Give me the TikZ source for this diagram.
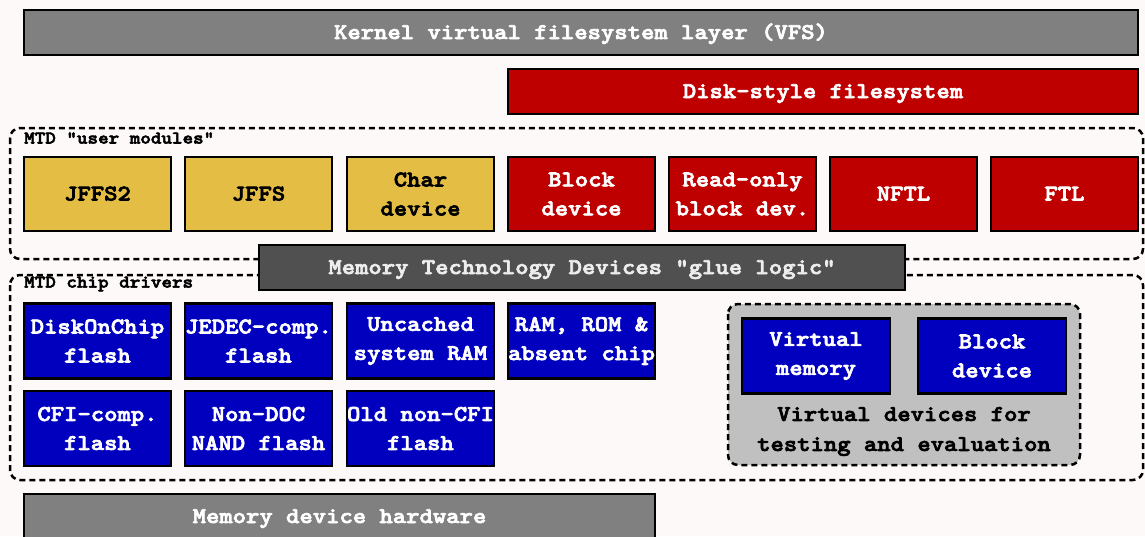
\documentclass[tikz,border=0pt]{standalone}
\usepackage{fontspec}
\newfontfamily\boxfont{lmmonolt10-bold.otf}[FakeStretch=1.13, FakeBold=3]
\definecolor{bgcol}{RGB}{253,249,248}
\definecolor{layergrey}{RGB}{128,128,128}
\definecolor{gluegrey}{RGB}{80,80,80}
\definecolor{fsred}{RGB}{190,0,0}
\definecolor{modyellow}{RGB}{228,190,68}
\definecolor{chipblue}{RGB}{0,0,190}
\definecolor{virtgrey}{RGB}{192,192,192}
\tikzset{
  box/.style={draw=black, line width=2.5pt, inner sep=0pt, align=center,
    font=\boxfont\fontsize{22.5}{29}\selectfont},
  oneline/.style={text height=13.5pt, text depth=0.5pt},
  layer/.style={box, oneline, fill=layergrey, text=white, minimum height=45pt},
  fsbox/.style={box, fill=fsred, text=white, minimum width=147pt, minimum height=74pt},
  modbox/.style={box, fill=modyellow, text=black, minimum width=147pt, minimum height=74pt},
  chipbox/.style={box, fill=chipblue, text=white, minimum width=147pt, minimum height=75pt},
  group/.style={draw=black, line width=2.5pt, dash pattern=on 6pt off 4pt, rounded corners=10pt},
  grouplabel/.style={anchor=west, inner sep=0pt, font=\boxfont\fontsize{17.8}{20}\selectfont},
  plain/.style={inner sep=0pt, align=center, font=\boxfont\fontsize{22.5}{30}\selectfont}
}
\begin{document}
\begin{tikzpicture}[x=1pt,y=-1pt]
\useasboundingbox (0,0) rectangle (1145,536);
\fill[bgcol] (0,0) rectangle (1145,536);

% layers above the MTD subsystem
\node[layer, minimum width=1114pt] (vfs) at (581,32.5) {Kernel virtual filesystem layer (VFS)};
\node[layer, fill=fsred, minimum width=630pt] (disk) at (823,91.5) {Disk-style filesystem};

% dashed groups
\draw[group] (10,128) rectangle (1143,259);
\node[grouplabel] (userlbl) at (24,138) {MTD "user modules"};
\draw[group] (10,275) rectangle (1143,480);
\node[grouplabel] (chiplbl) at (24,284) {MTD chip drivers};

% user modules
\node[modbox, oneline] (jffs2) at (97.5,194) {JFFS2};
\node[modbox, oneline] (jffs) at (258.5,194) {JFFS};
\node[modbox] (chardev) at (420.5,194) {Char\\device};
\node[fsbox] (blockdev) at (581.5,194) {Block\\device};
\node[fsbox] (robd) at (742.5,194) {Read-only\\block dev.};
\node[fsbox, oneline] (nftl) at (903.5,194) {NFTL};
\node[fsbox, oneline] (ftl) at (1064.5,194) {FTL};

% glue logic
\node[box, oneline, fill=gluegrey, text=white!93!black, minimum width=646pt, minimum height=45pt] (glue) at (582,267.5) {Memory Technology Devices "glue logic"};

% chip drivers
\node[chipbox] (doc) at (97.5,341) {DiskOnChip\\flash};
\node[chipbox] (jedec) at (258.5,341) {JEDEC-comp.\\flash};
\node[chipbox] (uncached) at (420.5,341) {Uncached\\system RAM};
\node[chipbox] (ramrom) at (581.5,341) {RAM, ROM \&\\absent chip};
\node[chipbox] (cfi) at (97.5,428.5) {CFI-comp.\\flash};
\node[chipbox] (nand) at (258.5,428.5) {Non-DOC\\NAND flash};
\node[chipbox] (oldcfi) at (420.5,428.5) {Old non-CFI\\flash};

% virtual devices
\draw[group, fill=virtgrey] (728,304) rectangle (1080,465);
\node[chipbox, minimum width=148pt] (vmem) at (816,356) {Virtual\\memory};
\node[chipbox, minimum width=148pt] (vblock) at (992,356) {Block\\device};
\node[plain] (vlabel) at (904,431.5) {Virtual devices for\\testing and evaluation};

% hardware
\node[layer, minimum width=631pt] (hw) at (339.5,516.5) {Memory device hardware};
\end{tikzpicture}
\end{document}
